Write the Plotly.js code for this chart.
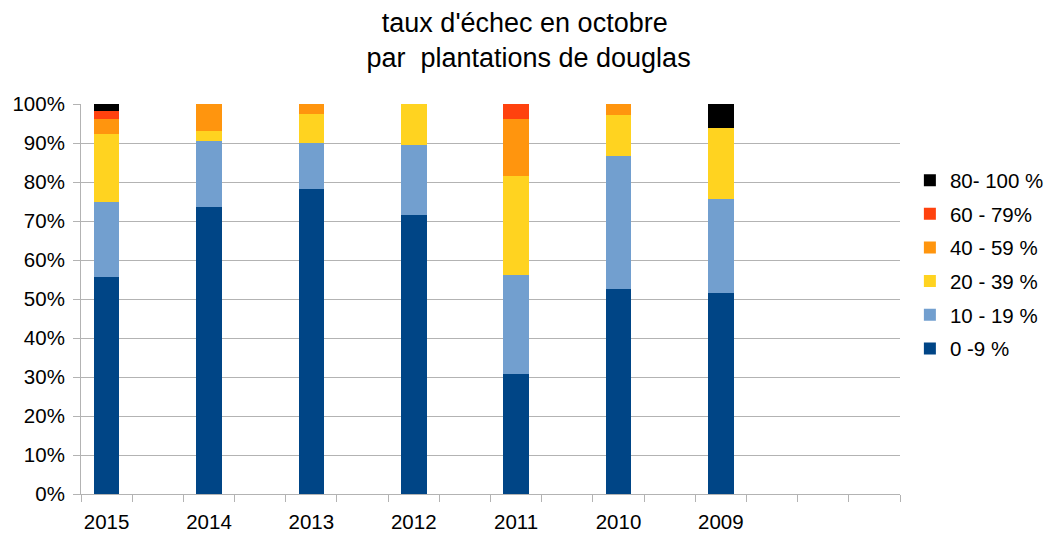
<!DOCTYPE html>
<html>
<head>
<meta charset="utf-8">
<script src="https://cdn.plot.ly/plotly-3.0.1.min.js"></script>
<style>html,body{margin:0;padding:0;background:#fff;}#chart{width:1058px;height:534px;}</style>
</head>
<body>
<div id="chart"></div>
<script>
// Category labels (years), one bar every other slot
const years = ['2015', '2014', '2013', '2012', '2011', '2010', '2009'];
const slotCount = 16;

// Series values (% of plantations), bottom to top of stack
const s0_9    = [55.7, 73.6, 78.1, 71.5, 30.8, 52.5, 51.5];
const s10_19  = [19.2, 16.9, 11.8, 18.0, 25.4, 34.2, 24.2];
const s20_39  = [17.3,  2.5,  7.5, 10.5, 25.4, 10.5, 18.1];
const s40_59  = [ 4.0,  7.0,  2.6,  0,   14.6,  2.8,  0];
const s60_79  = [ 2.0,  0,    0,    0,    3.8,  0,    0];
const s80_100 = [ 1.8,  0,    0,    0,    0,    0,    6.2];

const seriesNames = ['0 -9 %', '10 - 19 %', '20 - 39 %', '40 - 59 %', '60 - 79%', '80- 100 %'];
const seriesValues = [s0_9, s10_19, s20_39, s40_59, s60_79, s80_100];
const seriesColors = ['#004586', '#729fcf', '#ffd320', '#ff950e', '#ff420e', '#000000'];

const xpos = years.map((_, i) => i * 2);
const FONT = 'Liberation Sans, Arial, sans-serif';
const FS = 20.5;

const traces = seriesNames.map((name, k) => ({
  type: 'bar',
  name: name,
  legendgroup: 'g' + k,
  legendrank: 1000 - k,
  x: xpos,
  y: seriesValues[k],
  width: 0.5,
  marker: {color: seriesColors[k], line: {width: 0}},
  hoverinfo: 'name+y'
}));

const boundaries = [];
for (let i = 0; i <= slotCount; i++) boundaries.push(i - 0.5);

const layout = {
  width: 1058,
  height: 534,
  margin: {l: 81, r: 158, t: 104, b: 40},
  paper_bgcolor: '#ffffff',
  plot_bgcolor: '#ffffff',
  barmode: 'stack',
  bargap: 0,
  showlegend: true,
  font: {family: FONT, color: '#000000', size: FS},
  title: {
    text: "taux d'échec en octobre<br> par  plantations de douglas",
    font: {family: FONT, size: 27, color: '#000000'},
    x: 0.496, xanchor: 'center', xref: 'container',
    y: 0.94, yanchor: 'top', yref: 'container'
  },
  xaxis: {
    range: [-0.5, slotCount - 0.5],
    tickmode: 'array',
    tickvals: boundaries,
    ticktext: boundaries.map(() => ''),
    showticklabels: false,
    ticks: 'outside',
    ticklen: 7,
    tickcolor: '#b3b3b3',
    tickwidth: 1,
    showgrid: false,
    showline: true,
    linecolor: '#b3b3b3',
    linewidth: 1,
    zeroline: false,
    automargin: false,
    fixedrange: true
  },
  xaxis2: {
    overlaying: 'x',
    anchor: 'y',
    side: 'bottom',
    range: [-0.5, slotCount - 0.5],
    tickmode: 'array',
    tickvals: xpos,
    ticktext: years,
    ticks: 'outside',
    ticklen: 9,
    tickcolor: 'rgba(0,0,0,0)',
    showline: false,
    showgrid: false,
    zeroline: false,
    automargin: false,
    tickfont: {family: FONT, size: FS, color: '#000000'},
    fixedrange: true
  },
  yaxis: {
    range: [0, 100],
    tickmode: 'linear',
    tick0: 0,
    dtick: 10,
    ticksuffix: '%',
    ticks: 'outside',
    ticklen: 7,
    tickcolor: '#b3b3b3',
    ticklabelstandoff: 4,
    showgrid: true,
    gridcolor: '#b3b3b3',
    gridwidth: 1,
    showline: true,
    linecolor: '#b3b3b3',
    linewidth: 1,
    zeroline: false,
    automargin: false,
    tickfont: {family: FONT, size: FS, color: '#000000'},
    fixedrange: true
  },
  legend: {
    xref: 'container', yref: 'container',
    x: 0.86, xanchor: 'left',
    y: 0.505, yanchor: 'middle',
    traceorder: 'grouped',
    font: {family: FONT, size: FS, color: '#000000'},
    itemwidth: 30,
    tracegroupgap: 4,
    bgcolor: 'rgba(0,0,0,0)'
  }
};

// invisible trace to activate xaxis2 (category labels)
traces.push({type: 'scatter', x: [xpos[0]], y: [0], xaxis: 'x2', yaxis: 'y', mode: 'markers', marker: {opacity: 0}, showlegend: false, hoverinfo: 'skip'});

Plotly.newPlot('chart', traces, layout, {displayModeBar: false, staticPlot: true});
</script>
</body>
</html>
